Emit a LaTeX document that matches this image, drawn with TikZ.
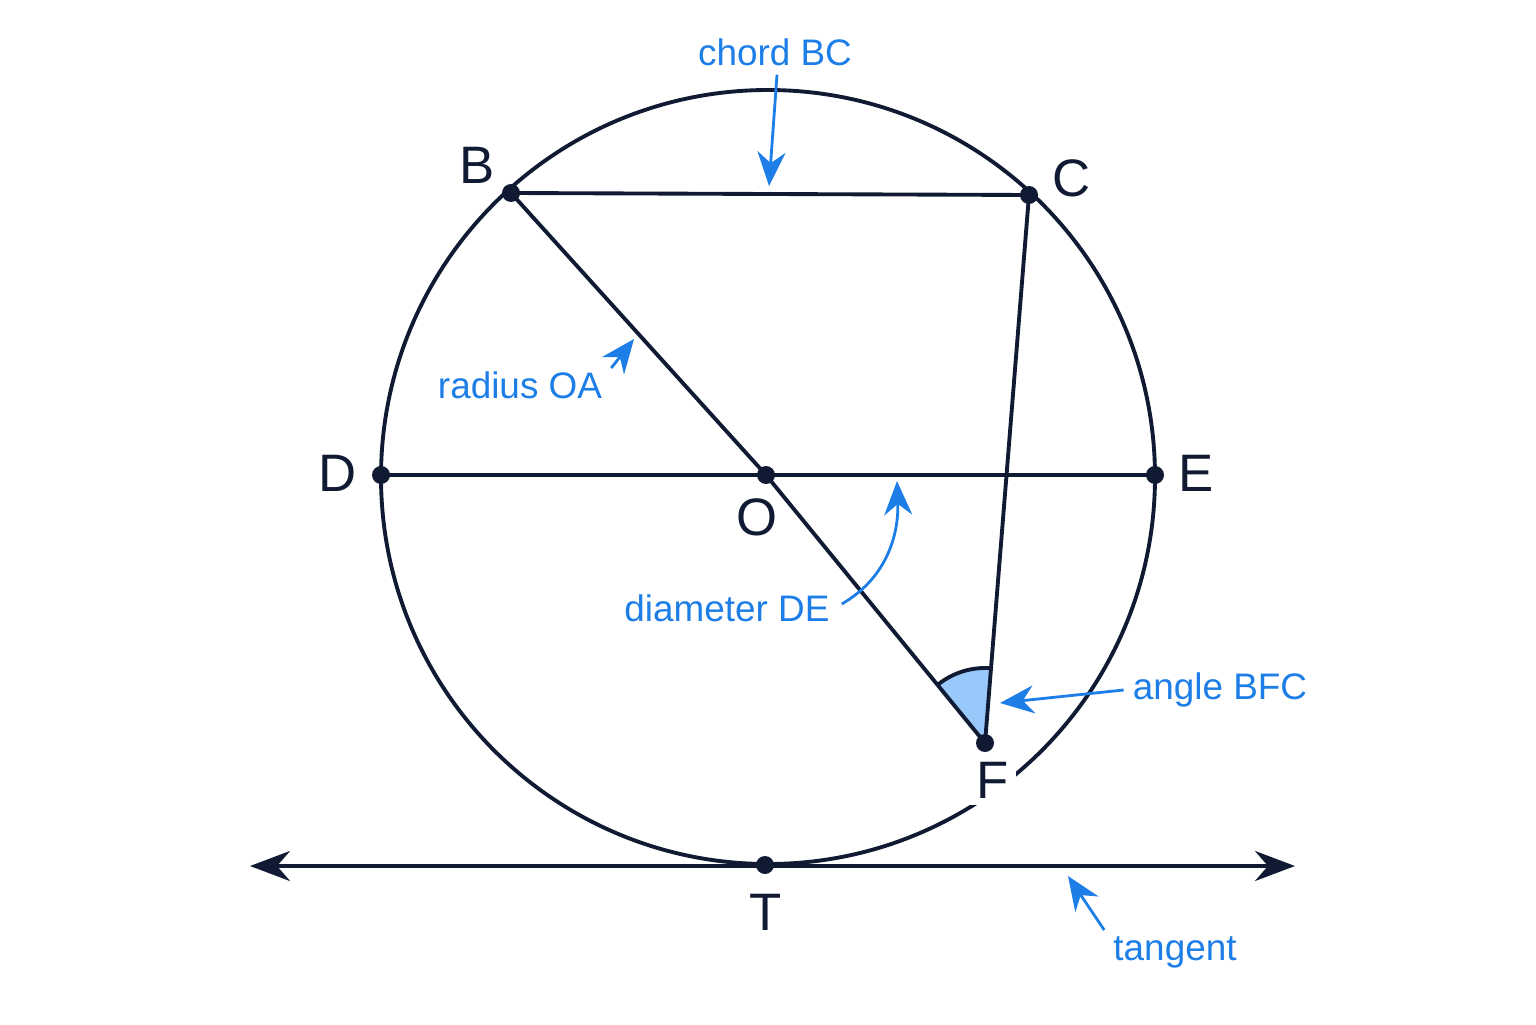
\documentclass[tikz,border=0pt]{standalone}
\usepackage{fontspec}
\setmainfont{Liberation Sans}
\usetikzlibrary{calc,arrows.meta}
\definecolor{ink}{HTML}{101A33}
\definecolor{note}{HTML}{1E7EE8}
\definecolor{wedge}{HTML}{99C8FA}
\tikzstyle{geo}=[draw=ink,line width=1.1pt]
\tikzstyle{pointer}=[draw=note,line width=0.8pt,-{Stealth[length=3.4mm,width=2.8mm]}]
\tikzstyle{notelbl}=[text=note,font=\fontsize{10.5}{12}\selectfont,inner sep=1pt]
\tikzstyle{ptlbl}=[text=ink,font=\fontsize{15}{17}\selectfont,inner sep=1pt]
\newcommand{\putdot}[1]{
\fill[ink] (#1) circle (0.09);
}

\begin{document}
\begin{tikzpicture}
\useasboundingbox (0,0) rectangle (15.36,10.24);
\pgfmathsetmacro{\rad}{3.87} % radius of the circle
\coordinate (ctr) at (7.68,5.47);
\coordinate (O) at (7.66,5.49);
\coordinate (B) at (5.11,8.31);
\coordinate (C) at (10.29,8.29);
\coordinate (D) at (3.81,5.49);
\coordinate (E) at (11.55,5.49);
\coordinate (F) at (9.85,2.81);
\coordinate (T) at (7.65,1.59);
\coordinate (tl) at (2.50,1.58);
\coordinate (tr) at (12.95,1.58);

% angle BFC
\fill[wedge] (F) -- ($(F)+(85.4:0.75)$) arc (85.4:129:0.75) -- cycle;
\draw[geo] ($(F)+(85.4:0.75)$) arc (85.4:129:0.75);

\draw[geo] (ctr) circle (\rad);
\draw[geo] (B) -- (C);
\draw[geo] (D) -- (E);
\draw[geo] (B) -- (O) -- (F);
\draw[geo] (C) -- (F);
\draw[geo,{Stealth[length=4mm,width=3mm]}-{Stealth[length=4mm,width=3mm]}] (tl) -- (tr); % tangent at T

\foreach \p in {B,C,D,E,O,F,T} {
  \putdot{\p}
}

\node[ptlbl] (Blbl) at (4.77,8.59) {B};
\node[ptlbl] (Clbl) at (10.72,8.46) {C};
\node[ptlbl] (Dlbl) at (3.38,5.51) {D};
\node[ptlbl] (Elbl) at (11.96,5.51) {E};
\node[ptlbl] (Olbl) at (7.57,5.07) {O};
\node[ptlbl,fill=white,inner sep=2pt] (Flbl) at (9.93,2.44) {F};
\node[ptlbl] (Tlbl) at (7.66,1.12) {T};

% notes
\node[notelbl] (chordlbl) at (7.75,9.72) {chord BC};
\node[notelbl] (radlbl) at (5.20,6.39) {radius OA};
\node[notelbl] (dialbl) at (7.27,4.16) {diameter DE};
\node[notelbl] (anglbl) at (12.20,3.34) {angle BFC};
\node[notelbl] (tanlbl) at (11.75,0.72) {tangent};

\coordinate (chordtip) at (7.69,8.38);
\coordinate (radtip) at (6.34,6.85);
\coordinate (diatip) at (8.97,5.43);
\coordinate (angtip) at (10.00,3.21);
\coordinate (tantip) at (10.68,1.48);

\draw[pointer] (chordlbl.south) ++(0.02,-0.05) -- (chordtip);
\draw[pointer] ($(radlbl.east)+(0.05,0.17)$) -- (radtip);
\draw[pointer] ($(dialbl.east)+(0.08,0.04)$) to[out=30,in=-88] (diatip);
\draw[pointer] ($(anglbl.west)+(-0.05,0)$) -- (angtip);
\draw[pointer] ($(tanlbl.north west)+(-0.05,0.02)$) -- (tantip);
\end{tikzpicture}
\end{document}
